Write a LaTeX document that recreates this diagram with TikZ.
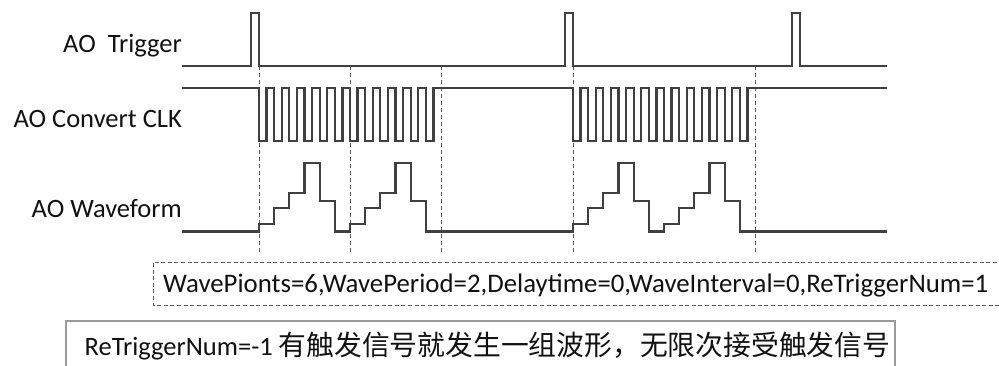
\documentclass[tikz,border=0pt]{standalone}
\usepackage{fontspec}
\setmainfont{Carlito}
\newfontfamily\cjk{Noto Sans CJK SC}
\definecolor{sigc}{HTML}{404040}
\definecolor{guidec}{HTML}{5A5A5A}
\definecolor{boxc}{HTML}{9A9A9A}
\definecolor{txtc}{HTML}{111111}
\begin{document}
\begin{tikzpicture}[x=1pt,y=-1pt,
  sig/.style={line width=2.2pt,draw=sigc,line join=miter},
  guide/.style={line width=1pt,draw=guidec,dash pattern=on 4pt off 3pt},
  dashbox/.style={line width=1pt,draw=guidec,dash pattern=on 4pt off 2.6pt},
  solidbox/.style={line width=1.3pt,draw=boxc},
  lbl/.style={anchor=base east,inner sep=0pt,font=\fontsize{26.5}{30}\selectfont,text=txtc},
  note/.style={anchor=base west,inner sep=0pt,font=\fontsize{26.8}{30}\selectfont,text=txtc}]
\useasboundingbox (0,0) rectangle (999,365);
% labels
\node[lbl] (ltrig) at (182,52) {AO\ \ Trigger};
\node[lbl] (lclk) at (182,127) {AO Convert CLK};
\node[lbl] (lwave) at (182,217) {AO Waveform};
% guide lines
\foreach \gx [count=\i] in {259,350,441,573,755}{
  \coordinate (gt\i) at (\gx,66);
  \coordinate (gb\i) at (\gx,253);
  \draw[guide] (gt\i) -- (gb\i);
}
% trigger
\draw[sig] (182,66) -- (251,66) -- (251,13) -- (259,13) -- (259,66)
  -- (565,66) -- (565,13) -- (573,13) -- (573,66)
  -- (792,66) -- (792,13) -- (800,13) -- (800,66) -- (887,66);
% convert clock
\def\hw{7.5833}
\draw[sig] (182,88) -- (259,88)
  \foreach \k in {1,...,11}{ -- ++(0,53) -- ++(\hw,0) -- ++(0,-53) -- ++(\hw,0) }
  -- ++(0,53) -- ++(\hw,0) -- ++(0,-53) -- (573,88)
  \foreach \k in {1,...,11}{ -- ++(0,53) -- ++(\hw,0) -- ++(0,-53) -- ++(\hw,0) }
  -- ++(0,53) -- ++(\hw,0) -- ++(0,-53) -- (887,88);
% waveform
\draw[sig] (182,231.5) -| (259,224) -| (274.17,208) -| (289.33,193) -| (304.5,163)
  -| (319.67,201) -| (334.83,231.5)
  -| (350,224) -| (365.17,208) -| (380.33,193) -| (395.5,163)
  -| (410.67,201) -| (425.83,231.5)
  -| (573,224) -| (588.17,208) -| (603.33,193) -| (618.5,163)
  -| (633.67,201) -| (648.83,231.5)
  -| (664,224) -| (679.17,208) -| (694.33,193) -| (709.5,163)
  -| (724.67,201) -| (739.83,231.5) -- (887,231.5);
% parameter box
\draw[dashbox] (1010,262) -| (153,305) -- (1010,305);
\node[note] (params) at (163,292) {WavePionts=6,WavePeriod=2,Delaytime=0,WaveInterval=0,ReTriggerNum=1};
% note box
\draw[solidbox] (66,380) |- (895,321) -- (895,380);
\node[note,font=\fontsize{26.5}{30}\selectfont] (retrig) at (84.5,355) {ReTriggerNum=-1 {\cjk\fontsize{27.8}{30}\selectfont 有触发信号就发生一组波形，无限次接受触发信号}};
\end{tikzpicture}
\end{document}
